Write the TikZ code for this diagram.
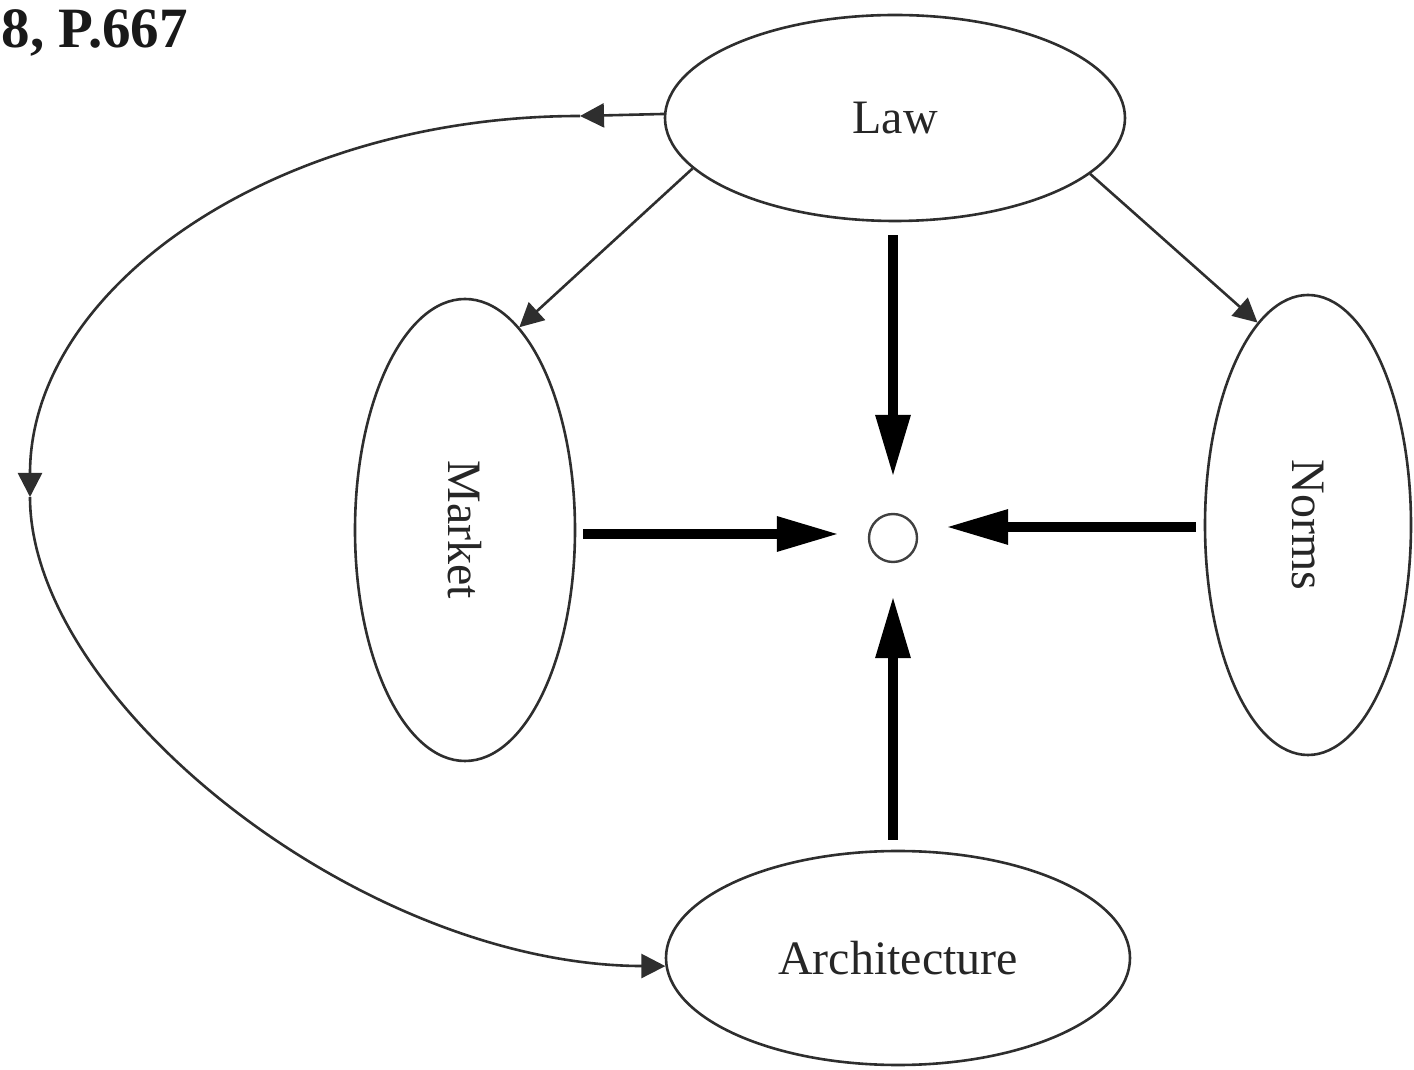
\documentclass[tikz,border=0pt]{standalone}
\usepackage{fontspec}
\usepackage{graphicx}
\setmainfont{Liberation Serif}
\usetikzlibrary{arrows.meta,shapes.geometric,calc}
\begin{document}
\begin{tikzpicture}[x=1pt,y=1pt,
  oval/.style={ellipse, draw=black!82, line width=2.6pt, inner sep=0pt,
    font=\fontsize{48}{56}\selectfont, text=black!85},
  thinarrow/.style={draw=black!82, line width=2.6pt, -{Triangle[length=24pt,width=24pt]}},
  thickarrow/.style={draw=black, line width=9.5pt, -{Triangle[length=62pt,width=33pt]}},
  hub/.style={circle, draw=black!75, line width=2.4pt, minimum size=48pt, inner sep=0pt}
]
\useasboundingbox (0,0) rectangle (1414,1069);

\node[anchor=base west, font=\bfseries\fontsize{57}{62}\selectfont, text=black!90] (title) at (-2,1021) {8, P.667};

\node[oval, minimum width=460, minimum height=206] (Law) at (895,951) {Law};
\node[oval, minimum width=220, minimum height=462] (Market) at (465,539) {\rotatebox{-90}{Market}};
\node[oval, minimum width=206, minimum height=460] (Norms) at (1308,544) {\rotatebox{-90}{Norms}};
\node[oval, minimum width=464, minimum height=214] (Arch) at (898,111) {Architecture};
\node[hub] (C) at (893,531) {};

% thick arrows into the hub
\draw[thickarrow] ($(C |- Law.south)+(0,-13)$) -- ([yshift=36]C.north);
\draw[thickarrow] ([shift={(7,-4)}]Market.east) -- ([shift={(-29,4)}]C.west);
\draw[thickarrow] ([shift={(-8,-2)}]Norms.west) -- ([shift={(28,11)}]C.east);
\draw[thickarrow] ($(C |- Arch.north)+(0,10)$) -- ([yshift=-33]C.south);

% thin arrows from Law
\draw[thinarrow] (Law.194) -- (Market.75);
\draw[thinarrow] (Law.344) -- (Norms.104);

% big loop from Law to Architecture
\coordinate (k1) at (580,953);
\coordinate (k2) at (30,572);
\draw[thinarrow] (Law.179) -- (k1);
\draw[thinarrow] (k1) arc[start angle=90, end angle=180, x radius=550, y radius=381];
\draw[thinarrow] (k2) .. controls (30,369) and (360,104) .. (Arch.182);
\end{tikzpicture}
\end{document}
